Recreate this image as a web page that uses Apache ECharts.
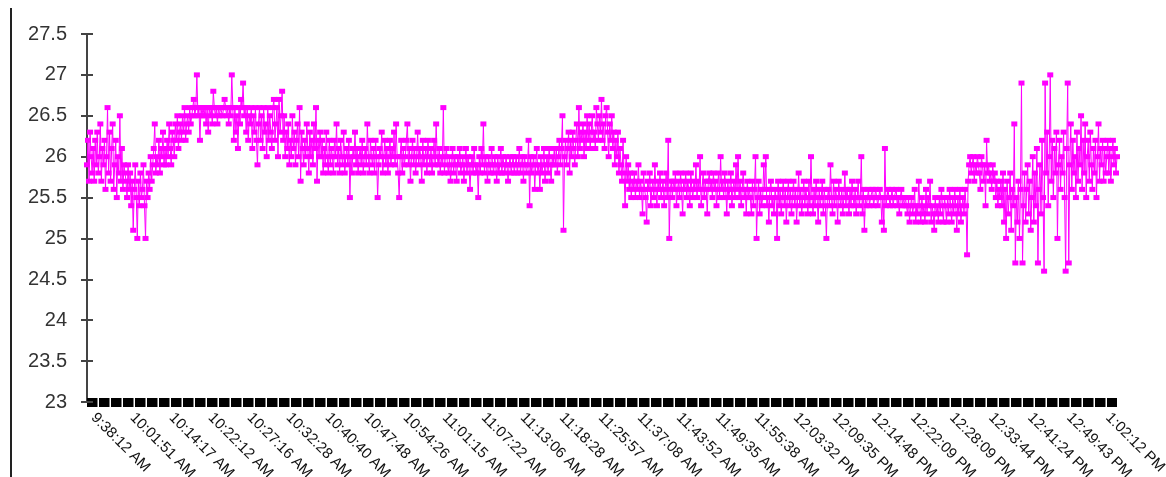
<!DOCTYPE html>
<html>
<head>
<meta charset="utf-8">
<script src="https://cdn.jsdelivr.net/npm/echarts@6/dist/echarts.min.js"></script>
<style>
  html, body { margin: 0; padding: 0; background: #fff; }
  #chart { width: 1166px; height: 477px; }
</style>
</head>
<body>
<div id="chart"></div>
<script>
// Time stamps printed under the axis; each one opens a block of readings.
const timeLabels = [
  '9:38:12 AM', '10:01:51 AM', '10:14:17 AM', '10:22:12 AM', '10:27:16 AM',
  '10:32:28 AM', '10:40:40 AM', '10:47:48 AM', '10:54:26 AM', '11:01:15 AM',
  '11:07:22 AM', '11:13:06 AM', '11:18:28 AM', '11:25:57 AM', '11:37:08 AM',
  '11:43:52 AM', '11:49:35 AM', '11:55:38 AM', '12:03:32 PM', '12:09:35 PM',
  '12:14:48 PM', '12:22:09 PM', '12:28:09 PM', '12:33:44 PM', '12:41:24 PM',
  '12:49:43 PM', '1:02:12 PM'
];

// Temperature readings, one block per time stamp above.
const block00 = [25.9,26.2,25.7,26.3,26.0,25.8,26.1,25.7,26.2,25.9,26.3,25.8,26.0,26.4,25.7,26.1,25.9,26.2,25.6,26.0,26.6,25.8,26.3,25.7,26.1,26.4,25.6,25.9,26.2,25.5,26.0,25.8,26.5,25.7,26.1,25.6,25.9,25.8];
const block01 = [25.7,25.5,25.9,25.6,25.8,25.4,25.7,25.1,25.6,25.9,25.5,25.0,25.7,25.4,25.8,25.5,25.6,25.9,25.4,25.0,25.7,25.5,25.8,25.6,26.0,25.7,25.9,26.1,26.4,25.8,26.0,25.9,26.2,25.8,26.1,26.0,26.3,25.9];
const block02 = [26.1,25.9,26.2,26.0,26.4,26.1,25.9,26.3,26.2,26.0,26.4,26.2,26.5,26.1,26.3,26.4,26.2,26.5,26.3,26.6,26.2,26.4,26.5,26.3,26.6,26.4,26.5,26.6,26.7,26.5,26.6,27.0,26.5,26.6,26.2,26.6,26.5,26.6];
const block03 = [26.5,26.6,26.4,26.6,26.3,26.6,26.5,26.6,26.4,26.8,26.6,26.5,26.6,26.4,26.6,26.5,26.6,26.6,26.5,26.6,26.7,26.6,26.5,26.6,26.4,26.6,26.5,27.0,26.6,26.2,26.6,26.3,26.5,26.1,26.6,26.4,26.7,26.6];
const block04 = [26.9,26.5,26.6,26.3,26.6,26.2,26.5,26.4,26.6,26.1,26.5,26.3,26.6,26.2,25.9,26.4,26.6,26.2,26.5,26.1,26.6,26.3,26.4,26.0,26.6,26.2,26.5,26.3,26.1,26.6,26.7,26.2,26.4,26.6,26.0,26.7,26.3,26.5];
const block05 = [26.8,26.2,26.5,26.0,26.3,26.1,26.4,25.9,26.2,26.0,26.5,26.1,26.3,25.9,26.2,26.4,26.0,26.6,25.7,26.3,26.1,25.9,26.2,26.0,26.4,26.1,25.8,26.3,26.0,26.2,25.9,26.4,26.1,26.6,25.7,26.2,26.0,26.3];
const block06 = [26.0,26.2,25.8,26.1,25.9,26.3,26.0,25.8,26.2,25.9,26.1,26.0,25.8,26.2,26.0,26.4,25.9,26.1,25.8,26.2,26.0,25.9,26.3,25.8,26.0,26.1,25.9,26.2,25.5,26.0,25.8,26.1,26.0,26.3,25.9,26.1,25.8,26.0];
const block07 = [26.1,25.9,26.2,25.8,26.0,26.1,25.9,26.4,26.0,25.8,26.2,26.0,25.9,26.1,25.8,26.2,26.0,25.5,25.9,26.1,26.0,26.3,25.8,26.0,26.2,25.9,26.1,25.8,26.0,26.2,25.9,26.1,26.0,26.3,25.9,26.4,26.0,25.8];
const block08 = [25.5,26.0,26.2,25.8,26.1,25.9,26.0,26.2,26.4,25.9,26.1,25.7,26.0,26.2,25.9,26.1,25.8,26.0,26.3,25.9,26.1,26.0,25.7,26.2,25.9,26.0,26.1,25.8,26.2,26.0,25.9,26.1,25.8,26.0,26.2,25.9,26.4,26.0];
const block09 = [25.9,26.1,25.8,26.0,25.9,26.6,25.8,26.0,26.1,25.9,25.8,26.0,25.7,25.9,26.1,25.8,26.0,25.9,25.7,26.0,25.9,26.1,25.8,25.9,26.0,25.7,25.9,26.1,25.8,26.0,25.9,25.6,25.9,26.0,25.8,26.1,25.9,25.8];
const block10 = [25.9,25.5,26.0,25.8,26.1,25.9,26.4,25.8,26.0,25.9,25.7,26.0,25.9,25.8,26.1,25.9,25.8,26.0,25.9,25.7,26.0,25.8,25.9,26.1,25.8,26.0,25.9,25.8,26.0,25.9,25.7,25.9,26.0,25.8,25.9,26.0,25.8,25.9];
const block11 = [26.0,25.8,25.9,26.1,25.8,25.9,26.0,25.7,26.0,25.9,25.8,25.9,26.2,25.4,26.0,25.8,25.9,26.0,25.6,25.9,26.1,25.8,25.9,25.6,26.0,25.8,25.9,26.1,25.7,25.9,26.0,25.8,26.1,25.9,25.7,26.0,25.9,26.1];
const block12 = [25.9,26.1,25.8,26.0,26.2,25.9,26.1,26.5,25.1,26.0,26.2,25.9,26.1,26.3,25.8,26.2,26.0,26.3,26.1,25.9,26.2,26.4,26.0,26.6,26.1,26.3,26.2,26.4,26.0,26.3,26.1,26.5,26.2,26.4,26.1,26.3,26.5,26.2];
const block13 = [26.3,26.1,26.6,26.4,26.2,26.5,26.3,26.7,26.2,26.4,26.1,26.5,26.6,26.3,26.0,26.4,26.2,26.5,26.1,26.3,25.9,26.2,26.0,26.3,25.8,26.1,25.9,25.7,26.2,25.8,25.4,26.0,25.7,25.9,25.6,25.8,25.5,25.7];
const block14 = [25.6,25.8,25.5,25.7,25.6,25.9,25.5,25.7,25.6,25.3,25.8,25.6,25.5,25.2,25.7,25.6,25.8,25.4,25.6,25.7,25.5,25.9,25.6,25.4,25.7,25.6,25.8,25.5,25.6,25.7,25.4,25.6,25.8,25.5,26.2,25.0,25.6,25.7];
const block15 = [25.5,25.7,25.6,25.8,25.4,25.6,25.7,25.5,25.8,25.6,25.3,25.7,25.6,25.8,25.5,25.7,25.6,25.4,25.8,25.6,25.5,25.7,25.6,25.9,25.5,25.7,25.6,26.0,25.4,25.6,25.8,25.5,25.7,25.6,25.3,25.7,25.8,25.6];
const block16 = [25.7,25.5,25.8,25.6,25.7,25.4,25.6,25.8,25.5,26.0,25.6,25.7,25.5,25.8,25.6,25.3,25.7,25.5,25.6,25.8,25.4,25.6,25.7,25.5,25.9,25.6,26.0,25.5,25.7,25.4,25.6,25.8,25.5,25.6,25.3,25.7,25.5,25.6];
const block17 = [25.5,25.3,25.7,25.4,25.6,26.0,25.0,25.5,25.7,25.3,25.6,25.4,25.5,25.9,25.6,26.0,25.4,25.5,25.2,25.6,25.7,25.4,25.5,25.3,25.6,25.5,25.0,25.7,25.4,25.6,25.3,25.5,25.7,25.4,25.6,25.2,25.5,25.7];
const block18 = [25.4,25.6,25.3,25.5,25.7,25.4,25.6,25.2,25.5,25.8,25.4,25.6,25.3,25.5,25.7,25.4,25.6,25.5,25.3,25.7,25.4,26.0,25.5,25.3,25.6,25.4,25.7,25.5,25.2,25.6,25.4,25.5,25.7,25.3,25.6,25.4,25.0,25.5];
const block19 = [25.6,25.4,25.9,25.5,25.3,25.7,25.4,25.6,25.5,25.2,25.7,25.5,25.4,25.6,25.3,25.5,25.8,25.4,25.6,25.5,25.3,25.6,25.4,25.7,25.5,25.4,25.6,25.3,25.5,25.7,25.4,25.5,26.0,25.3,25.6,25.1,25.5,25.4];
const block20 = [25.5,25.6,25.4,25.5,25.5,25.6,25.4,25.5,25.6,25.5,25.4,25.5,25.6,25.5,25.2,25.5,25.1,26.1,25.4,25.5,25.6,25.5,25.4,25.5,25.6,25.4,25.5,25.5,25.6,25.4,25.5,25.3,25.5,25.6,25.4,25.5,25.4,25.5];
const block21 = [25.4,25.3,25.5,25.2,25.4,25.5,25.3,25.4,25.6,25.2,25.4,25.3,25.7,25.4,25.2,25.5,25.3,25.4,25.2,25.6,25.3,25.5,25.4,25.7,25.2,25.4,25.3,25.1,25.5,25.3,25.4,25.2,25.5,25.3,25.6,25.4,25.2,25.5];
const block22 = [25.4,25.2,25.5,25.3,25.6,25.4,25.2,25.5,25.3,25.6,25.4,25.1,25.5,25.3,25.6,25.2,25.4,25.5,25.3,25.6,25.4,24.8,25.7,25.9,26.0,25.8,25.9,26.0,25.7,25.9,25.8,26.0,25.9,25.8,25.6,26.0,25.9,25.7];
const block23 = [25.9,25.4,26.2,25.8,25.9,25.7,25.8,25.6,25.9,25.7,25.8,25.5,25.7,25.4,25.6,25.5,25.7,25.4,25.8,25.2,25.6,25.0,25.7,25.3,25.5,25.8,25.1,25.6,25.4,26.4,24.7,25.5,25.2,25.7,25.0,25.6,26.9,24.7];
const block24 = [25.4,25.8,25.2,25.6,25.9,25.3,25.7,25.1,25.5,26.0,25.2,25.8,25.4,26.1,24.7,25.6,25.9,25.3,26.2,25.5,24.6,26.9,25.8,26.3,25.4,26.0,27.0,25.7,26.2,25.5,26.1,25.8,26.3,25.0,25.9,26.2,25.6,26.0];
const block25 = [25.8,26.3,25.5,24.6,26.1,26.9,24.7,25.9,26.4,25.6,26.2,25.8,26.0,25.5,26.3,25.7,26.1,25.9,26.5,25.6,26.2,25.8,26.4,25.5,26.0,26.2,25.7,26.3,25.9,25.6,26.1,25.8,26.2,25.5,26.0,26.4,25.7,26.1];
const block26 = [25.9,26.2,25.7,26.1,25.8,26.0,26.2,25.8,26.1,25.7,26.0,26.2,25.9,26.1,25.8,26.0];

const blocks = [
  block00, block01, block02, block03, block04, block05, block06, block07, block08,
  block09, block10, block11, block12, block13, block14, block15, block16, block17,
  block18, block19, block20, block21, block22, block23, block24, block25, block26
];

// Axis scale
const yMin = 23, yMax = 27.5, yStep = 0.5;

// Flatten blocks into one series; the first reading of a block carries its time stamp.
const temps = [];
const categories = [];
blocks.forEach((blk, b) => {
  blk.forEach((v, i) => {
    temps.push(v);
    categories.push(i === 0 ? timeLabels[b] : '');
  });
});

const chart = echarts.init(document.getElementById('chart'), null, { renderer: 'canvas' });

const yAxisBase = {
  type: 'value',
  min: yMin,
  max: yMax,
  interval: yStep,
  splitLine: { show: false }
};

chart.setOption({
  animation: false,
  backgroundColor: '#ffffff',
  grid: {
    left: 87, right: 49, top: 34, bottom: 75,
    containLabel: false,
    outerBoundsMode: 'none'
  },
  graphic: [
    {
      type: 'line',
      shape: { x1: 11, y1: 8, x2: 11, y2: 477 },
      style: { stroke: '#222', lineWidth: 2 }
    }
  ],
  xAxis: {
    type: 'category',
    data: categories,
    boundaryGap: false,
    axisLine: {
      show: true,
      onZero: false,
      lineStyle: { color: '#000', width: 9, type: [10.5, 1.5], cap: 'butt' }
    },
    axisTick: { show: false },
    axisLabel: {
      interval: (idx, val) => val !== '',
      rotate: -45,
      margin: 7,
      padding: [0, 0, 0, 9],
      color: '#111',
      fontSize: 15,
      fontFamily: 'Liberation Sans, Arial, sans-serif'
    },
    splitLine: { show: false }
  },
  yAxis: [
    Object.assign({}, yAxisBase, {
      axisLine: { show: true, lineStyle: { color: '#444', width: 2 } },
      axisTick: { show: true, length: 6, lineStyle: { color: '#444', width: 2 } },
      axisLabel: {
        margin: 20,
        color: '#333',
        fontSize: 20,
        fontFamily: 'Liberation Sans, Arial, sans-serif'
      }
    }),
    // inner half of the crossing tick marks
    Object.assign({}, yAxisBase, {
      position: 'left',
      offset: 0,
      axisLine: { show: false },
      axisTick: { show: true, inside: true, length: 6, lineStyle: { color: '#444', width: 2 } },
      axisLabel: { show: false }
    })
  ],
  series: [
    {
      name: 'Temperature',
      type: 'line',
      data: temps,
      yAxisIndex: 0,
      showAllSymbol: true,
      symbol: 'rect',
      symbolSize: [6, 5],
      itemStyle: { color: '#ff00ff' },
      lineStyle: { color: '#ff00ff', width: 1 },
      z: 3
    }
  ]
});
</script>
</body>
</html>
